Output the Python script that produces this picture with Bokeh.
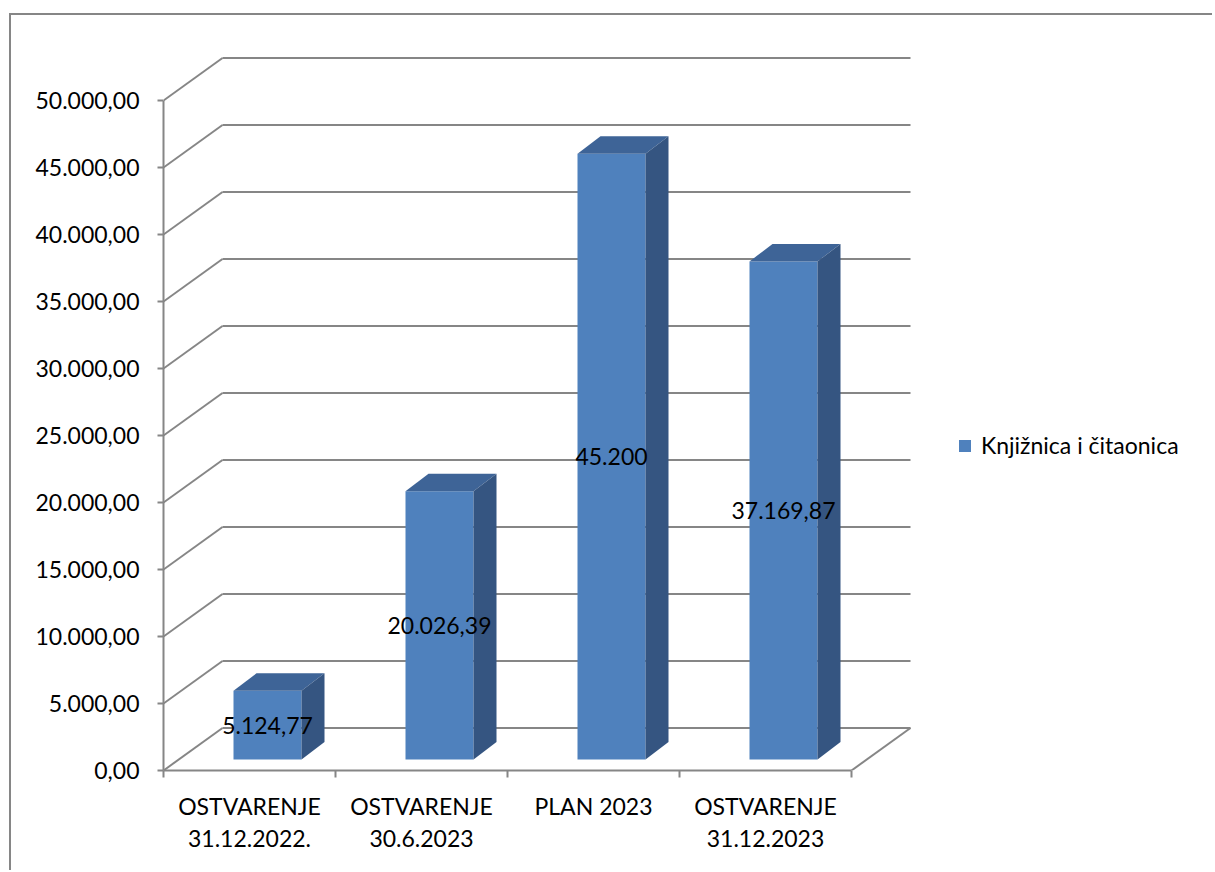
from bokeh.plotting import figure
from bokeh.models import FixedTicker, Range1d, Legend, LegendItem, ColumnDataSource
from bokeh.core.properties import value
from bokeh.embed import file_html
from bokeh.resources import INLINE

# ---------------- data ----------------
categories = ["OSTVARENJE\n31.12.2022.", "OSTVARENJE\n30.6.2023", "PLAN 2023", "OSTVARENJE\n31.12.2023"]
values = [5124.77, 20026.39, 45200.0, 37169.87]
value_labels = ["5.124,77", "20.026,39", "45.200", "37.169,87"]
series_name = "Knjižnica i čitaonica"
y_ticks = [0, 5000, 10000, 15000, 20000, 25000, 30000, 35000, 40000, 45000, 50000]
y_tick_labels = ["0,00", "5.000,00", "10.000,00", "15.000,00", "20.000,00", "25.000,00",
                 "30.000,00", "35.000,00", "40.000,00", "45.000,00", "50.000,00"]

# ---------------- style / geometry ----------------
FONT = "Lato"
FS = "23px"
GRID = "#868686"
FRONT = "#4F81BD"
TOP = "#3E6497"
SIDE = "#355581"

PX_X = 172.0      # pixels per category
PX_Y = 0.0134     # pixels per value unit
WALL_DX = 59 / PX_X
WALL_DY = 42.5 / PX_Y
BAR_DX0 = 18 / PX_X
BAR_DY0 = 11 / PX_Y
BAR_W = 68 / PX_X
BAR_DDX = 23 / PX_X
BAR_DDY = 17.5 / PX_Y

W, H = 1203, 857
ML, MB, MT = 152, 102, 15
n = len(categories)

p = figure(width=W, height=H,
           x_range=Range1d(0, (W - ML) / PX_X),
           y_range=Range1d(0, (H - MB - MT) / PX_Y),
           output_backend="svg", toolbar_location=None,
           min_border_left=ML, min_border_right=0, min_border_top=MT, min_border_bottom=MB)
p.outline_line_color = None
p.grid.visible = False
p.background_fill_color = "white"
p.border_fill_color = "white"
p.styles = {"border-top": "2px solid #868686", "border-left": "2px solid #868686",
            "margin-left": "9px", "margin-top": "13px"}

# ---------------- walls ----------------
p.segment(x0=[0] * len(y_ticks), y0=y_ticks,
          x1=[WALL_DX] * len(y_ticks), y1=[t + WALL_DY for t in y_ticks],
          line_color=GRID, line_width=2)
p.segment(x0=[WALL_DX] * len(y_ticks), y0=[t + WALL_DY for t in y_ticks],
          x1=[n + WALL_DX] * len(y_ticks), y1=[t + WALL_DY for t in y_ticks],
          line_color=GRID, line_width=2)
p.segment(x0=[n], y0=[0], x1=[n + WALL_DX], y1=[WALL_DY], line_color=GRID, line_width=2)

# ---------------- bars ----------------
lefts = [i + 0.5 - BAR_W / 2 + BAR_DX0 for i in range(n)]
rights = [l + BAR_W for l in lefts]
bottoms = [BAR_DY0] * n
tops = [v + BAR_DY0 for v in values]

front = p.quad(left=lefts, right=rights, bottom=bottoms, top=tops,
               fill_color=FRONT, line_color=None)

top_xs = [[l, r, r + BAR_DDX, l + BAR_DDX] for l, r in zip(lefts, rights)]
top_ys = [[t, t, t + BAR_DDY, t + BAR_DDY] for t in tops]
p.patches(xs=top_xs, ys=top_ys, fill_color=TOP, line_color=None)

side_xs = [[r, r + BAR_DDX, r + BAR_DDX, r] for r in rights]
side_ys = [[b, b + BAR_DDY, t + BAR_DDY, t] for b, t in zip(bottoms, tops)]
p.patches(xs=side_xs, ys=side_ys, fill_color=SIDE, line_color=None)

lab_src = ColumnDataSource(dict(x=[i + 0.5 + BAR_DX0 for i in range(n)],
                                y=[v / 2 + BAR_DY0 for v in values],
                                t=value_labels))
p.text(x="x", y="y", text="t", source=lab_src, text_font=value(FONT), text_font_size=FS,
       text_align="center", text_baseline="middle", text_color="black")

# ---------------- axes ----------------
ya = p.yaxis[0]
ya.ticker = FixedTicker(ticks=y_ticks, minor_ticks=[])
ya.major_label_overrides = dict(zip(y_ticks, y_tick_labels))
ya.bounds = (0, y_ticks[-1])
ya.axis_line_color = GRID
ya.axis_line_width = 2
ya.major_tick_line_color = GRID
ya.major_tick_line_width = 2
ya.major_tick_out = 6
ya.major_tick_in = 0
ya.minor_tick_out = 0
ya.minor_tick_in = 0
ya.major_label_standoff = 18
ya.major_label_text_font = FONT
ya.major_label_text_font_size = FS
ya.major_label_text_color = "black"

xa = p.xaxis[0]
xt = [i + 0.5 for i in range(n)]
xa.ticker = FixedTicker(ticks=xt, minor_ticks=list(range(n + 1)))
xa.major_label_overrides = dict(zip(xt, categories))
xa.bounds = (0, n)
xa.axis_line_color = GRID
xa.axis_line_width = 2
xa.major_tick_out = 0
xa.major_tick_in = 0
xa.major_tick_line_color = None
xa.minor_tick_out = 7
xa.minor_tick_in = 0
xa.minor_tick_line_color = GRID
xa.minor_tick_line_width = 2
xa.major_label_standoff = 14
xa.major_label_text_font = FONT
xa.major_label_text_font_size = FS
xa.major_label_text_color = "black"
xa.major_label_text_line_height = 1.17

# ---------------- legend ----------------
legend = Legend(items=[LegendItem(label=series_name, renderers=[front])],
                location=(794, 311), padding=0, margin=0,
                border_line_color=None, background_fill_alpha=0,
                glyph_width=15, glyph_height=15, label_standoff=9,
                label_text_font=FONT, label_text_font_size=FS, label_text_color="black")
p.add_layout(legend)

open("out.html", "w").write(file_html(p, INLINE))
